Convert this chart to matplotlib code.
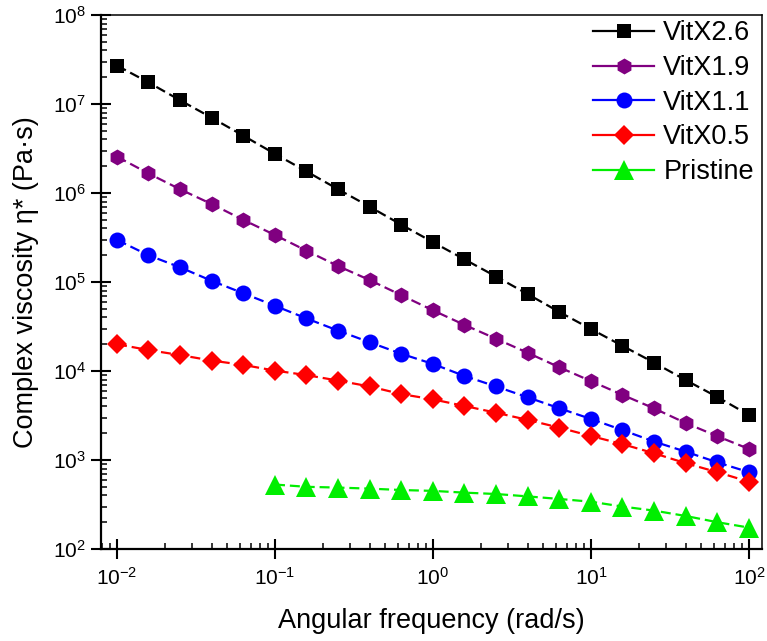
import matplotlib
matplotlib.use("Agg")
import matplotlib.pyplot as plt
from matplotlib.ticker import LogLocator, LogFormatterSciNotation, NullFormatter

plt.rcParams["font.family"] = ["Liberation Sans", "DejaVu Sans"]
plt.rcParams["mathtext.default"] = "regular"
plt.rcParams["axes.unicode_minus"] = False

# Angular frequency sweep (rad/s)
freq = [0.01, 0.0158, 0.0251, 0.0398, 0.0631, 0.1, 0.158, 0.251, 0.398, 0.631,
        1.0, 1.58, 2.51, 3.98, 6.31, 10.0, 15.8, 25.1, 39.8, 63.1, 100.0]
freq_pristine = freq[5:]

# Complex viscosity (Pa·s)
vitx26 = [2.7e7, 1.75e7, 1.1e7, 7.0e6, 4.4e6, 2.75e6, 1.75e6, 1.1e6, 7.0e5, 4.4e5,
          2.8e5, 1.8e5, 1.15e5, 7.3e4, 4.6e4, 2.96e4, 1.92e4, 1.24e4, 7.9e3, 5.1e3, 3.2e3]
vitx19 = [2.56e6, 1.66e6, 1.1e6, 7.5e5, 4.98e5, 3.37e5, 2.25e5, 1.51e5, 1.05e5, 7.1e4,
          4.8e4, 3.3e4, 2.3e4, 1.6e4, 1.1e4, 7.7e3, 5.4e3, 3.8e3, 2.6e3, 1.85e3, 1.33e3]
vitx11 = [2.97e5, 2.0e5, 1.46e5, 1.03e5, 7.46e4, 5.4e4, 3.9e4, 2.84e4, 2.1e4, 1.56e4,
          1.2e4, 8.8e3, 6.7e3, 5.06e3, 3.81e3, 2.89e3, 2.17e3, 1.61e3, 1.24e3, 9.4e2, 7.3e2]
vitx05 = [2.0e4, 1.72e4, 1.51e4, 1.31e4, 1.17e4, 1.01e4, 9.0e3, 7.8e3, 6.7e3, 5.5e3,
          4.8e3, 4.05e3, 3.4e3, 2.82e3, 2.31e3, 1.86e3, 1.51e3, 1.19e3, 9.2e2, 7.3e2, 5.7e2]
pristine = [5.3e2, 5.0e2, 4.9e2, 4.77e2, 4.6e2, 4.5e2, 4.3e2, 4.15e2, 3.9e2, 3.65e2,
            3.4e2, 3.0e2, 2.7e2, 2.35e2, 2.0e2, 1.74e2]

series = [
    ("VitX2.6", freq, vitx26, "black", "s", 10),
    ("VitX1.9", freq, vitx19, "#800080", "h", 11.5),
    ("VitX1.1", freq, vitx11, "#0000ff", "o", 11.5),
    ("VitX0.5", freq, vitx05, "#ff0000", "D", 10.5),
    ("Pristine", freq_pristine, pristine, "#00ee00", "^", 14),
]

fig = plt.figure(figsize=(7.67, 6.41), dpi=100)
ax = fig.add_axes([0.1317, 0.1435, 0.8618, 0.8331])

for label, x, y, color, marker, ms in series:
    ax.plot(x, y, linestyle=(0, (4.5, 2.2)), linewidth=1.6, color=color,
            marker=marker, markersize=ms, markeredgewidth=0, label=label)

ax.set_xscale("log")
ax.set_yscale("log")
ax.set_xlim(7.92e-3, 120.9)
ax.set_ylim(1e2, 1e8)

ax.xaxis.set_major_locator(LogLocator(base=10, numticks=10))
ax.xaxis.set_major_formatter(LogFormatterSciNotation())
ax.xaxis.set_minor_locator(LogLocator(base=10, subs=range(2, 10), numticks=20))
ax.xaxis.set_minor_formatter(NullFormatter())
ax.yaxis.set_major_locator(LogLocator(base=10, numticks=10))
ax.yaxis.set_major_formatter(LogFormatterSciNotation())
ax.yaxis.set_minor_locator(LogLocator(base=10, subs=range(2, 10), numticks=20))
ax.yaxis.set_minor_formatter(NullFormatter())

ax.tick_params(which="major", direction="inout", length=14, width=1.5,
               labelsize=15, top=False, right=False)
ax.tick_params(axis="x", which="major", pad=6)
ax.tick_params(axis="y", which="major", pad=4)
ax.tick_params(which="minor", direction="in", length=4.5, width=1.1,
               top=False, right=False)

for side in ["left", "bottom"]:
    ax.spines[side].set_linewidth(1.6)
for side in ["top", "right"]:
    ax.spines[side].set_linewidth(1.1)

ax.set_xlabel("Angular frequency (rad/s)", fontsize=19.5)
ax.xaxis.label.set_va("baseline")
ax.xaxis.set_label_coords(0.5, -0.148)

ax.set_ylabel("Complex viscosity η* (Pa·s)", fontsize=19.5)
ax.yaxis.label.set_va("center")
ax.yaxis.set_label_coords(-0.114, 0.5)

leg = ax.legend(loc="upper right", bbox_to_anchor=(0.996, 1.0), frameon=False,
                fontsize=19.5, handlelength=2.25, handletextpad=0.33,
                labelspacing=0.32, borderaxespad=0, borderpad=0.2)
for handle in leg.get_lines():
    handle.set_linestyle("-")

fig.savefig("out.png", dpi=100)
